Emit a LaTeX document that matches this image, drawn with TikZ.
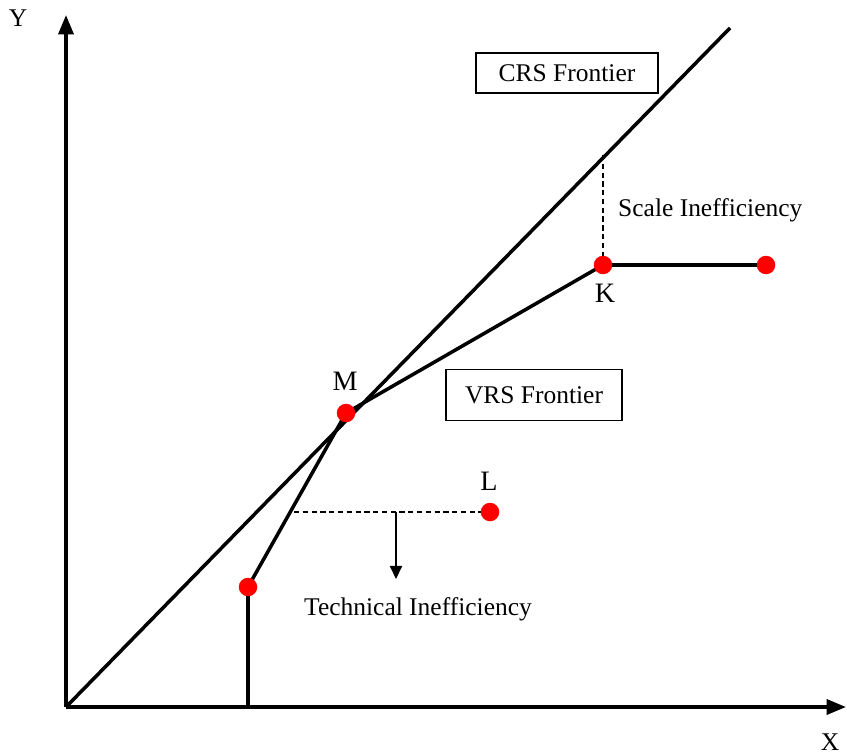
\documentclass[tikz,border=0pt]{standalone}
\usepackage{fontspec}
\setmainfont{Liberation Serif}
\usetikzlibrary{arrows.meta}

\tikzset{
    axis/.style={line width=2pt, -{Triangle[length=11pt,width=8.5pt]}},
    frontier/.style={line width=2pt},
    dot/.style={circle, fill=red, inner sep=0pt, minimum size=0.37cm},
    guide/.style={line width=0.6pt, dash pattern=on 3pt off 2pt},
    labelbox/.style={draw, line width=0.7pt, minimum width=3.64cm, minimum height=0.8cm, font=\fontsize{14.5}{16}\selectfont},
    txt/.style={font=\fontsize{14.5}{16}\selectfont},
    ptlabel/.style={font=\fontsize{16}{18}\selectfont}
}

\begin{document}
\begin{tikzpicture}[x=0.02cm, y=0.02cm]
    \useasboundingbox (0,0) rectangle (847,755);

    % Axes
    \coordinate (O) at (66,48);
    \coordinate (Ytop) at (66,740);
    \coordinate (Xend) at (846,48);
    \draw[axis] (O) -- (Ytop);
    \draw[axis] (O) -- (Xend);
    \node[txt] (ylab) at (18,737) {Y};
    \node[txt] (xlab) at (830,13) {X};

    % Frontier points
    \coordinate (B) at (248,48);
    \coordinate (P) at (248,168);
    \coordinate (M) at (346,342);
    \coordinate (K) at (603,490);
    \coordinate (R) at (766,490);
    \coordinate (L) at (490,243);
    \coordinate (Ctop) at (730,727);
    \coordinate (S) at (603,600);

    % CRS frontier
    \draw[frontier] (O) -- (Ctop);

    % VRS frontier
    \draw[frontier] (B) -- (P) -- (M) -- (K) -- (R);

    % Scale inefficiency
    \draw[guide] (S) -- (K);
    \node[txt, anchor=west] (scale) at (612,545) {Scale Inefficiency};

    % Technical inefficiency
    \coordinate (T) at (294,243);
    \coordinate (A) at (396,243);
    \coordinate (Aend) at (396,176);
    \draw[guide] (T) -- (L);
    \draw[line width=0.8pt, -{Triangle[length=7.5pt,width=7pt]}] (A) -- (Aend);
    \node[txt] (tech) at (418,146) {Technical Inefficiency};

    % Dots
    \node[dot] (p) at (P) {};
    \node[dot] (m) at (M) {};
    \node[dot] (k) at (K) {};
    \node[dot] (r) at (R) {};
    \node[dot] (l) at (L) {};
    \node[ptlabel] (mlab) at (345,374) {M};
    \node[ptlabel] (klab) at (605,462) {K};
    \node[ptlabel] (llab) at (489,274) {L};

    % Boxes
    \node[labelbox] (crs) at (567,682) {CRS Frontier};
    \node[labelbox, minimum width=3.52cm, minimum height=1.02cm] (vrs) at (534,360) {VRS Frontier};
\end{tikzpicture}
\end{document}
